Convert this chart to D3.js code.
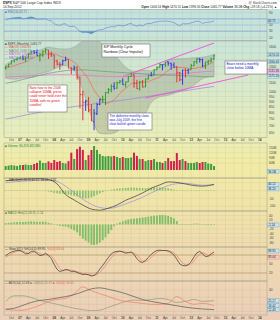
<!DOCTYPE html>
<html>
<head>
<meta charset="utf-8">
<script src="https://cdn.jsdelivr.net/npm/d3@7"></script>
<style>
  body { margin: 0; background: #fff; }
  svg { display: block; font-family: "Liberation Sans", Arial, sans-serif; }
</style>
</head>
<body>
<svg id="chart" width="280" height="320"></svg>
<script>
// ---- data (monthly bars, Aug 2006 .. Sep 2012) ----
const months = d3.timeMonth.range(new Date(2006, 7, 1), new Date(2012, 9, 1));

const open = [1276.7, 1303.8, 1335.9, 1377.9, 1400.6,
  1418.0, 1437.9, 1406.8, 1420.8, 1482.4, 1530.6, 1504.7, 1455.2, 1474.0, 1527.3, 1545.8, 1479.6,
  1468.0, 1378.6, 1330.5, 1326.4, 1386.0, 1399.6, 1276.7, 1269.4, 1287.8, 1164.2, 968.7, 888.6,
  903.0, 823.1, 729.6, 793.6, 872.7, 923.3, 920.8, 990.2, 1019.5, 1054.9, 1036.2, 1098.9,
  1116.6, 1073.9, 1105.4, 1171.2, 1188.6, 1087.3, 1031.1, 1107.5, 1049.7, 1143.5, 1185.7, 1186.6,
  1257.6, 1289.1, 1328.6, 1329.5, 1365.2, 1345.2, 1320.6, 1292.6, 1219.1, 1131.2, 1251.0, 1246.9,
  1258.9, 1312.5, 1365.9, 1408.5, 1397.9, 1309.9, 1362.3, 1379.3, 1406.5];
const high = [1306.7, 1340.3, 1389.5, 1407.9, 1431.8,
  1441.6, 1461.6, 1438.9, 1498.0, 1535.6, 1540.6, 1555.9, 1503.9, 1538.7, 1576.1, 1545.8, 1523.6,
  1471.8, 1396.0, 1359.7, 1397.0, 1440.2, 1404.1, 1292.2, 1313.2, 1303.0, 1167.0, 1007.5, 918.9,
  943.9, 875.0, 833.0, 888.7, 930.2, 956.2, 996.7, 1039.5, 1080.2, 1101.4, 1111.1, 1130.4,
  1150.5, 1112.4, 1180.7, 1219.8, 1205.1, 1131.2, 1121.0, 1129.2, 1148.9, 1196.1, 1227.1, 1262.6,
  1302.7, 1344.1, 1332.3, 1364.6, 1370.6, 1356.5, 1356.5, 1307.4, 1229.3, 1256.6, 1277.6, 1269.4,
  1333.5, 1378.0, 1419.2, 1422.4, 1415.3, 1363.5, 1392.1, 1426.7, 1474.5];
const low = [1261.3, 1290.9, 1327.1, 1361.0, 1385.9,
  1404.0, 1389.4, 1364.0, 1416.4, 1476.7, 1484.2, 1454.3, 1370.6, 1439.3, 1489.6, 1406.1, 1435.7,
  1270.1, 1316.8, 1257.0, 1324.4, 1373.1, 1272.0, 1200.4, 1247.5, 1133.5, 839.8, 741.0, 815.7,
  804.3, 734.5, 666.8, 783.3, 866.1, 888.9, 869.3, 978.5, 992.0, 1020.0, 1029.4, 1085.9,
  1071.6, 1044.5, 1105.4, 1170.7, 1040.8, 1028.3, 1010.9, 1039.7, 1048.1, 1131.9, 1173.0, 1186.6,
  1257.6, 1289.1, 1249.1, 1294.7, 1311.8, 1258.1, 1282.9, 1101.5, 1114.2, 1074.8, 1158.7, 1202.4,
  1258.9, 1312.5, 1340.0, 1357.4, 1292.0, 1266.7, 1325.4, 1354.6, 1396.6];
const close = [1303.8, 1335.9, 1377.9, 1400.6, 1418.3,
  1438.2, 1406.8, 1420.9, 1482.4, 1530.6, 1503.4, 1455.3, 1474.0, 1526.8, 1549.4, 1481.1, 1468.4,
  1378.6, 1330.6, 1322.7, 1385.6, 1400.4, 1280.0, 1267.4, 1282.8, 1166.4, 968.8, 896.2, 903.3,
  825.9, 735.1, 797.9, 872.8, 919.1, 919.3, 987.5, 1020.6, 1057.1, 1036.2, 1095.6, 1115.1,
  1073.9, 1104.5, 1169.4, 1186.7, 1089.4, 1030.7, 1101.6, 1049.3, 1141.2, 1183.3, 1180.6, 1257.6,
  1286.1, 1327.2, 1325.8, 1363.6, 1345.2, 1320.6, 1292.3, 1218.9, 1131.4, 1253.3, 1247.0, 1257.6,
  1312.4, 1365.7, 1408.5, 1397.9, 1310.3, 1362.2, 1379.3, 1406.6, 1465.8];
const ma10 = [1278.5, 1287.1, 1300.1, 1312.1, 1325.9, 1340.2, 1349.9, 1364.9, 1386.2, 1411.5,
  1431.5, 1443.4, 1453.1, 1465.7, 1478.8, 1483.1, 1489.2, 1485.0, 1469.8, 1449.0,
  1437.3, 1431.8, 1412.4, 1386.4, 1359.8, 1328.3, 1278.3, 1230.1, 1187.4, 1137.7,
  1072.6, 1012.4, 971.7, 936.8, 900.5, 882.6, 887.8, 903.9, 917.2, 944.1,
  982.1, 1009.7, 1032.9, 1057.9, 1084.7, 1094.9, 1095.9, 1100.3, 1101.6, 1106.2,
  1113.0, 1123.7, 1139.0, 1150.7, 1164.7, 1188.3, 1221.6, 1246.0, 1273.1, 1288.2,
  1291.8, 1286.9, 1286.4, 1282.5, 1275.6, 1274.2, 1274.4, 1280.8, 1288.5, 1290.3,
  1304.6, 1329.4, 1344.8, 1366.6];
// volume, billions of shares
const volume = [43, 46, 49, 46, 43, 49, 49, 52, 49, 49, 55, 61, 75, 61, 61, 70, 61, 78, 67, 72,
  61, 58, 72, 121, 84, 142, 156, 137, 78, 107, 137, 160, 137, 113, 102, 99, 102, 99, 102, 96,
  90, 96, 90, 90, 93, 121, 102, 84, 84, 72, 78, 78, 84, 67, 67, 61, 72, 90, 72, 72,
  119, 78, 84, 72, 61, 61, 61, 67, 61, 67, 67, 58, 55, 43];
const rsi = [66, 69, 72, 73, 74,
  75, 70, 71, 74, 76, 73, 68, 69, 69, 70, 65, 63,
  54, 50, 49, 53, 54, 46, 45, 46, 39, 29, 26, 27,
  25, 22, 27, 32, 35, 35, 40, 42, 45, 44, 48, 49,
  47, 49, 53, 55, 49, 46, 50, 47, 53, 55, 55, 59,
  60, 62, 62, 63, 62, 60, 58, 52, 47, 54, 54, 54,
  57, 60, 62, 61, 55, 58, 59, 60, 63];
const stoK = [77, 85, 90, 93, 95,
  95, 90, 84, 85, 92, 93, 85, 78, 80, 86, 78, 68,
  48, 32, 25, 28, 32, 30, 25, 26, 22, 18, 15, 16,
  14, 10, 12, 20, 33, 45, 58, 72, 84, 90, 92, 93,
  90, 86, 88, 90, 82, 68, 58, 55, 62, 72, 82, 90,
  95, 96, 95, 95, 93, 88, 80, 66, 50, 45, 44, 48,
  58, 74, 87, 92, 84, 75, 76, 84, 90];
const stoD = [72, 78, 84, 89, 93,
  94, 93, 90, 86, 87, 90, 90, 85, 81, 81, 81, 77,
  65, 49, 35, 28, 28, 30, 29, 27, 24, 22, 18, 16,
  15, 13, 12, 14, 22, 33, 45, 58, 71, 82, 89, 92,
  92, 90, 88, 88, 87, 80, 69, 60, 58, 63, 72, 81,
  89, 94, 95, 95, 94, 92, 87, 78, 65, 54, 46, 46,
  50, 60, 73, 84, 88, 84, 78, 78, 83];
const macdHist = [2, 3, 2, 3, 2, 1, 2, 3, 2, 1, 0, 1, -1, -2, -3, -6,
  -10, -15, -18, -20, -20, -22, -26, -30, -34, -38, -44, -48, -50, -48, -44, -36, -26, -18, -10, -4,
  2, 6, 9, 12, 14, 15, 16, 18, 19, 19, 18, 17, 16, 16, 17, 18, 19, 20, 20, 19,
  17, 14, 10, 6, 3, 1, -1, -2, -2, -2, -1, 0, 1, 1, 0, -1, -1, 0];
const momHist = [6, 8, 9, 10, 11, 12, 11, 12, 13, 14, 13, 12, 12, 13, 12, 8,
  5, 2, -3, -6, -8, -9, -13, -20, -26, -35, -50, -63, -72, -80, -90, -91, -88, -80, -70, -57,
  -42, -25, -8, 4, 9, 14, 18, 22, 25, 26, 27, 29, 31, 33, 35, 37, 39, 40, 42, 42,
  41, 38, 33, 27, 15, 2, -2, -3, -2, 2, 4, 4, 3, -2, -3, -3, -3, -2];

// ---- data read at quarterly points ----
const qDates = ["2006-08", "2006-11", "2007-02", "2007-05", "2007-08", "2007-11", "2008-02", "2008-05",
  "2008-08", "2008-11", "2009-02", "2009-05", "2009-08", "2009-11", "2010-02", "2010-05", "2010-08",
  "2010-11", "2011-02", "2011-05", "2011-08", "2011-11", "2012-02", "2012-05", "2012-09"].map(d3.timeParse("%Y-%m"));
const bbUpper = [1329, 1397, 1433, 1520, 1547, 1592, 1568, 1562, 1593, 1698, 1745, 1680, 1525, 1425, 1290, 1236,
  1253, 1243, 1303, 1385, 1410, 1415, 1426, 1433, 1475];
const bbLower = [1149, 1137, 1153, 1160, 1207, 1232, 1288, 1314, 1245, 1018, 765, 645, 641, 657, 714, 742,
  765, 891, 947, 961, 994, 1019, 1070, 1145, 1175];
const ma50 = [1090, 1110, 1135, 1160, 1185, 1210, 1230, 1245, 1255, 1255, 1250, 1240, 1232, 1225, 1218, 1212,
  1205, 1198, 1192, 1188, 1185, 1180, 1175, 1170, 1168];
const ma100 = [1165, 1170, 1175, 1180, 1185, 1190, 1192, 1192, 1190, 1185, 1180, 1175, 1172, 1170, 1170, 1172,
  1175, 1180, 1188, 1196, 1205, 1212, 1220, 1230, 1240];
const ma200 = [750, 763, 777, 791, 805, 818, 831, 843, 855, 866, 876, 886, 896, 907, 918, 930, 942, 955, 968,
  982, 996, 1010, 1024, 1038, 1055];
const macdLine = [62, 68, 72, 74, 75, 70, 42, -25, -60, -92, -118, -125, -112, -92, -62, -40, -15, 15, 36, 55,
  52, 42, 32, 28, 40];
const macdSignal = [50, 56, 60, 64, 66, 66, 58, 28, -12, -55, -88, -108, -114, -104, -85, -65, -42, -15, 10, 32,
  44, 46, 40, 34, 36];
const adx = [13, 14.5, 18.6, 22.7, 25.5, 26.8, 28.9, 30.9, 33.6, 37.7, 41.8, 43.2, 41.1, 38.4, 35, 30.9, 26.8,
  24.1, 22, 20, 18, 16, 14.5, 13.5, 12.5];
const plusDI = [24, 32, 32, 29.5, 25.5, 22.7, 20, 17.3, 14.5, 12.5, 11.1, 11.8, 15.9, 20, 24.1, 26.1, 25.5,
  26.8, 28.2, 26.8, 22.7, 24.1, 26.8, 24.1, 25.2];
const minusDI = [13.2, 11.8, 11.8, 14.5, 18.6, 24.1, 26.8, 28.2, 35, 44.5, 39, 35, 31, 26.8, 24.1, 22.7, 21.4,
  20, 20, 21.4, 30.9, 24.1, 20, 21.4, 18.4];

// trend channel end points [month, price]
const channelUpper = [["2010-01", 1170], ["2012-09", 1664]];
const channelLower = [["2010-09", 935], ["2013-09", 1190]];

// axis ticks
const mainTicks = [650, 700, 750, 800, 850, 900, 950, 1000, 1100, 1200, 1300, 1400, 1500, 1600];
const rsiTicks = [10, 30, 50, 70, 90];
const volTicks = [60, 90, 120, 150];
const macdTicks = [50, 0, -50, -100];
const histTicks = [40, 20, 0, -20, -40, -60, -80];
const stoTicks = [20, 50, 80];
const adxTicks = [10, 20, 30, 40];

// ---- layout ----
const svg = d3.select("#chart");
const defs = svg.append("defs");
const L = 4, R = 267;
const x = d3.scaleTime().domain([new Date(2006, 6, 14), new Date(2014, 2, 20)]).range([L, R]);
const qTicks = d3.timeMonth.every(3).range(x.domain()[0], x.domain()[1]);
const parseM = d3.timeParse("%Y-%m");

const yRsi = d3.scaleLinear().domain([0, 100]).range([40.5, 9.5]);
const yMain = d3.scaleLog().domain([618, 1699]).range([137.5, 41]);
const yVol = d3.scaleLinear().domain([20, 160]).range([170, 146]);
const yMacd = d3.scaleLinear().domain([-130, 80]).range([211, 178]);
const yHist = d3.scaleLinear().domain([-100, 60]).range([247, 211]);
const ySto = d3.scaleLinear().domain([0, 100]).range([279, 249]);
const yAdx = d3.scaleLinear().domain([5, 50]).range([315, 283]);

// background gradient, teal at top to peach at bottom
const grad = defs.append("linearGradient").attr("id", "bg")
  .attr("gradientUnits", "userSpaceOnUse").attr("x1", 0).attr("y1", 9).attr("x2", 0).attr("y2", 320);
[[9, "#c3e1dd"], [45, "#cbe5d8"], [95, "#dbe9c8"], [137, "#e9eebb"], [160, "#f1eba7"],
 [210, "#f0e3aa"], [260, "#eed8b2"], [320, "#ebcfb9"]]
  .forEach(([y, c]) => grad.append("stop").attr("offset", (y - 9) / 311).attr("stop-color", c));
svg.append("rect").attr("x", 0).attr("y", 9).attr("width", 280).attr("height", 311).attr("fill", "url(#bg)");

const tickLayer = svg.append("g");
const boxYs = [];

function panel(name, top, bottom, y, ticks, fmt) {
  defs.append("clipPath").attr("id", "clip-" + name).append("rect")
    .attr("x", L).attr("y", top).attr("width", R - L).attr("height", bottom - top);
  const g = svg.append("g");
  g.selectAll(".vg").data(qTicks).join("line").attr("class", "vg")
    .attr("x1", d => x(d)).attr("x2", d => x(d)).attr("y1", top).attr("y2", bottom)
    .attr("stroke", "#5a5a40").attr("stroke-opacity", 0.13).attr("stroke-width", 0.5);
  g.selectAll(".hg").data(ticks).join("line").attr("class", "hg")
    .attr("x1", L).attr("x2", R).attr("y1", d => y(d)).attr("y2", d => y(d))
    .attr("stroke", "#5a5a40").attr("stroke-opacity", 0.13).attr("stroke-width", 0.5);
  g.append("rect").attr("x", L).attr("y", top).attr("width", R - L).attr("height", bottom - top)
    .attr("fill", "none").attr("stroke", "#a09c84").attr("stroke-width", 0.5);
  ticks.forEach(t => tickLayer.append("text").attr("class", "tl")
    .attr("x", R + 2).attr("y", y(t)).attr("dy", "0.35em")
    .attr("font-size", 3.2).attr("fill", "#444").text(fmt(t)));
  return svg.append("g").attr("clip-path", `url(#clip-${name})`);
}

function valueBox(yPos, label, fill, stroke) {
  boxYs.push(yPos);
  const g = svg.append("g");
  g.append("rect").attr("x", R + 0.5).attr("y", yPos - 2).attr("width", 11.5).attr("height", 4)
    .attr("fill", fill).attr("stroke", stroke).attr("stroke-width", 0.4);
  g.append("text").attr("x", R + 1.2).attr("y", yPos).attr("dy", "0.35em")
    .attr("font-size", 3).attr("fill", "#222").text(label);
}

function legend(xPos, yPos, parts) {
  const t = svg.append("text").attr("x", xPos).attr("y", yPos).attr("font-size", 3.1);
  parts.forEach(([s, c]) => t.append("tspan").attr("fill", c).text(s));
}

// ---- header ----
const h1 = svg.append("text").attr("x", 3).attr("y", 4.2).attr("font-size", 3.4).attr("fill", "#222");
h1.append("tspan").attr("font-weight", "bold").text("$SPX");
h1.append("tspan").text(" S&P 500 Large Cap Index  INDX");
svg.append("text").attr("x", 3).attr("y", 8.4).attr("font-size", 3.2).attr("fill", "#222").text("14-Sep-2012");
svg.append("text").attr("x", 277).attr("y", 4.2).attr("text-anchor", "end").attr("font-size", 3.2)
  .attr("fill", "#333").text("@ StockCharts.com");
const h2 = svg.append("text").attr("x", 277).attr("y", 8.4).attr("text-anchor", "end")
  .attr("font-size", 3.1).attr("fill", "#222");
[["Open", " 1406.54  "], ["High", " 1474.51  "], ["Low", " 1396.56  "], ["Close", " 1465.77  "],
 ["Volume", " 36.5B  "], ["Chg", " +59.18 (+4.21%) \u25B2"]].forEach(([k, v]) => {
  h2.append("tspan").attr("font-weight", "bold").text(k);
  h2.append("tspan").text(v);
});

// ---- RSI panel ----
const gRsi = panel("rsi", 9.5, 40.5, yRsi, rsiTicks, d => d);
const rsiPts = months.map((d, i) => ({ date: d, v: rsi[i] }));
gRsi.append("path").datum(rsiPts).attr("fill", "#3f93ad").attr("fill-opacity", 0.85)
  .attr("d", d3.area().x(d => x(d.date)).y0(yRsi(70)).y1(d => yRsi(Math.max(70, d.v))));
gRsi.append("path").datum(rsiPts).attr("fill", "#3f93ad").attr("fill-opacity", 0.85)
  .attr("d", d3.area().x(d => x(d.date)).y0(yRsi(30)).y1(d => yRsi(Math.min(30, d.v))));
[70, 30].forEach(v => gRsi.append("line").attr("x1", L).attr("x2", R).attr("y1", yRsi(v)).attr("y2", yRsi(v))
  .attr("stroke", "#7d93d6").attr("stroke-width", 0.6));
gRsi.append("line").attr("x1", L).attr("x2", R).attr("y1", yRsi(50)).attr("y2", yRsi(50))
  .attr("stroke", "#8aa0c8").attr("stroke-width", 0.5).attr("stroke-dasharray", "1.5,1");
gRsi.append("path").datum(rsiPts).attr("fill", "none").attr("stroke", "#5b7ed2").attr("stroke-width", 0.6)
  .attr("d", d3.line().x(d => x(d.date)).y(d => yRsi(d.v)));
legend(5, 12.6, [["\u25A0 RSI(14) 62.71", "#4a6fc0"]]);
valueBox(yRsi(62.7), "62.71", "#b9dcee", "#6a9cc0");

// ---- main price panel ----
const gMain = panel("main", 41, 137.5, yMain, mainTicks, d => d);
const qPts = qDates.map((d, i) => ({ date: d, hi: bbUpper[i], lo: bbLower[i], m50: ma50[i], m100: ma100[i], m200: ma200[i] }));
gMain.append("path").datum(qPts).attr("fill", "#7a8574").attr("fill-opacity", 0.3)
  .attr("stroke", "#8d9684").attr("stroke-width", 0.4)
  .attr("d", d3.area().x(d => x(d.date)).y0(d => yMain(d.lo)).y1(d => yMain(d.hi)).curve(d3.curveMonotoneX));
[["m200", "#9b82dc"], ["m100", "#e26fd6"], ["m50", "#6f9676"]].forEach(([k, c]) => {
  gMain.append("path").datum(qPts).attr("fill", "none").attr("stroke", c).attr("stroke-width", 0.7)
    .attr("d", d3.line().x(d => x(d.date)).y(d => yMain(d[k])).curve(d3.curveMonotoneX));
});
[channelUpper, channelLower].forEach(seg => {
  gMain.append("line")
    .attr("x1", x(parseM(seg[0][0]))).attr("y1", yMain(seg[0][1]))
    .attr("x2", x(parseM(seg[1][0]))).attr("y2", yMain(seg[1][1]))
    .attr("stroke", "#f050e0").attr("stroke-width", 0.9);
});
gMain.append("path").datum(months.map((d, i) => ({ date: d, v: ma10[i] })))
  .attr("fill", "none").attr("stroke", "#f06a55").attr("stroke-width", 0.7)
  .attr("d", d3.line().x(d => x(d.date)).y(d => yMain(d.v)));

const barColor = i => {
  const up = close[i] >= (i > 0 ? close[i - 1] : open[i]);
  const above = close[i] >= ma10[i];
  if (up && above) return "#2f9e2f";
  if (!up && !above) return "#e23a3a";
  return "#3b3be6";
};
gMain.selectAll(".bar").data(months).join("path").attr("class", "bar")
  .attr("stroke", (d, i) => barColor(i)).attr("stroke-width", 1.05).attr("fill", "none")
  .attr("d", (d, i) => {
    const cx = x(d);
    return `M${cx},${yMain(high[i])}V${yMain(low[i])}` +
      `M${cx - 1.1},${yMain(open[i])}H${cx}` +
      `M${cx},${yMain(close[i])}H${cx + 1.1}`;
  });

legend(5, 44.5, [["\u25A0 $SPX (Monthly) 1465.77", "#444"]]);
legend(5, 48, [["\u2014 MA(10) 1366.61", "#e8553f"]]);
legend(5, 51.5, [["\u2014 MA(50) 1168.19", "#5d8a66"]]);
legend(5, 55, [["\u2014 MA(100) 1241.65", "#d65cc9"]]);
legend(5, 58.5, [["\u2014 MA(200) 1055.40", "#8a70d0"]]);

valueBox(yMain(1475), "1474.51", "#c6e6f2", "#6aa0c0");
valueBox(yMain(1366.6), "1366.61", "#c6e6f2", "#6aa0c0");
valueBox(yMain(1241), "1241.65", "#f4c8ee", "#d060c8");
valueBox(yMain(1175), "1175.10", "#c6e6f2", "#6aa0c0");

// annotations
function note(x0, y0, w, h, lines, color, size) {
  svg.append("rect").attr("x", x0).attr("y", y0).attr("width", w).attr("height", h)
    .attr("fill", "#fff").attr("stroke", "#555").attr("stroke-width", 0.5);
  svg.append("g").selectAll("text").data(lines).join("text")
    .attr("x", x0 + 1.5).attr("y", (d, i) => y0 + 4.2 + i * size * 1.25)
    .attr("font-size", size).attr("fill", color).text(d => d);
}
note(102, 44, 48, 13, ["S/P Monthly Cycle", "Rainbow (Clear Impulse)"], "#111", 3.6);
note(28, 85, 39, 27, ["Note how in the 2008", "collapse 10MA, prices", "could never hold over the",
  "10MA, with no green", "candles!"], "#e01010", 3.3);
note(108, 113, 44, 17, ["The definitive monthly close", "was July 2009, the first",
  "clear bullish green candle"], "#1020d0", 3.2);
note(225, 61, 42, 13, ["Bears need a monthly", "close below 10MA."], "#1020d0", 3.3);

// ---- volume panel ----
const gVol = panel("vol", 143, 178, yVol, volTicks, d => d + "B");
gVol.selectAll(".vb").data(months).join("rect").attr("class", "vb")
  .attr("x", d => x(d) - 1).attr("width", 2)
  .attr("y", (d, i) => yVol(volume[i])).attr("height", (d, i) => 170 - yVol(volume[i]))
  .attr("fill", (d, i) => close[i] >= (i > 0 ? close[i - 1] : open[i]) ? "#3f9c3f" : "#cf2150");
legend(5, 146.6, [["\u25A0 Volume 36,459,482,880", "#2f7f2f"]]);
valueBox(171.5, "36.5B", "#c6e6f2", "#6aa0c0");

// ---- MACD panel ----
const gMacd = panel("macd", 178, 211, yMacd, macdTicks, d => d);
gMacd.selectAll(".mh").data(months).join("rect").attr("class", "mh")
  .attr("x", d => x(d) - 0.8).attr("width", 1.6)
  .attr("y", (d, i) => Math.min(yMacd(0), yMacd(macdHist[i])))
  .attr("height", (d, i) => Math.max(0.5, Math.abs(yMacd(macdHist[i]) - yMacd(0))))
  .attr("fill", "#86c070");
const mPts = qDates.map((d, i) => ({ date: d, m: macdLine[i], s: macdSignal[i] }));
gMacd.append("path").datum(mPts).attr("fill", "none").attr("stroke", "#9a8ce0").attr("stroke-width", 0.7)
  .attr("d", d3.line().x(d => x(d.date)).y(d => yMacd(d.s)).curve(d3.curveMonotoneX));
gMacd.append("path").datum(mPts).attr("fill", "none").attr("stroke", "#333").attr("stroke-width", 0.7)
  .attr("d", d3.line().x(d => x(d.date)).y(d => yMacd(d.m)).curve(d3.curveMonotoneX));
legend(5, 181.4, [["\u2014 MACD(12,26,9) 40.12, 36.20, 3.92", "#333"]]);
valueBox(yMacd(40), "40.12", "#c6e6f2", "#6aa0c0");
valueBox(yMacd(36) + 4, "36.20", "#c6e6f2", "#6aa0c0");

// ---- histogram panel ----
const gHist = panel("hist", 211, 247, yHist, histTicks, d => d);
gHist.selectAll(".hb").data(months).join("rect").attr("class", "hb")
  .attr("x", d => x(d) - 0.9).attr("width", 1.8)
  .attr("y", (d, i) => Math.min(yHist(0), yHist(momHist[i])))
  .attr("height", (d, i) => Math.max(0.5, Math.abs(yHist(momHist[i]) - yHist(0))))
  .attr("fill", "#7fbd68");
legend(5, 214.4, [["\u25A0 MACD Hist(12,26,9) -2.14", "#3f7f2f"]]);
valueBox(yHist(-2), "-2.14", "#c6e6f2", "#6aa0c0");

// ---- slow stochastic panel ----
const gSto = panel("sto", 247, 281, ySto, stoTicks, d => d);
[80, 20].forEach(v => gSto.append("line").attr("x1", L).attr("x2", R).attr("y1", ySto(v)).attr("y2", ySto(v))
  .attr("stroke", "#a89868").attr("stroke-width", 0.6));
gSto.append("line").attr("x1", L).attr("x2", R).attr("y1", ySto(50)).attr("y2", ySto(50))
  .attr("stroke", "#b8a878").attr("stroke-width", 0.5).attr("stroke-dasharray", "1.5,1");
const sPts = months.map((d, i) => ({ date: d, k: stoK[i], dd: stoD[i] }));
gSto.append("path").datum(sPts).attr("fill", "none").attr("stroke", "#f07b6a").attr("stroke-width", 0.7)
  .attr("d", d3.line().x(d => x(d.date)).y(d => ySto(d.dd)));
gSto.append("path").datum(sPts).attr("fill", "none").attr("stroke", "#333").attr("stroke-width", 0.7)
  .attr("d", d3.line().x(d => x(d.date)).y(d => ySto(d.k)));
legend(5, 250.4, [["\u2014 Slow STO %K(14,3) 89.95, ", "#333"], ["%D(3) 83.04", "#e8604f"]]);
valueBox(ySto(90) - 1, "89.95", "#c6e6f2", "#6aa0c0");
valueBox(ySto(83) + 3, "83.04", "#f6d0c8", "#e07060");

// ---- ADX panel ----
const gAdx = panel("adx", 281, 315, yAdx, adxTicks, d => d);
const aPts = qDates.map((d, i) => ({ date: d, a: adx[i], p: plusDI[i], m: minusDI[i] }));
[["p", "#8d9c78"], ["m", "#f07b6a"], ["a", "#555"]].forEach(([k, c]) => {
  gAdx.append("path").datum(aPts).attr("fill", "none").attr("stroke", c).attr("stroke-width", 0.7)
    .attr("d", d3.line().x(d => x(d.date)).y(d => yAdx(d[k])).curve(d3.curveMonotoneX));
});
legend(5, 284.4, [["\u2014 ADX(14) 12.49 ", "#444"], ["\u25A0 +DI(14) 25.17 ", "#6f7f5a"], ["\u25A0 -DI(14) 18.42", "#e8604f"]]);
valueBox(yAdx(25.2), "25.17", "#c6e6f2", "#6aa0c0");
valueBox(yAdx(18.4), "18.42", "#c6e6f2", "#6aa0c0");
valueBox(yAdx(12.5), "12.49", "#c6e6f2", "#6aa0c0");

// drop right-axis tick labels hidden behind the value boxes
tickLayer.selectAll(".tl").filter(function () {
  const ty = +this.getAttribute("y");
  return boxYs.some(b => Math.abs(b - ty) < 3.8);
}).remove();

// ---- x axis labels ----
function xLabels(yPos) {
  svg.append("g").selectAll("text").data(qTicks).join("text")
    .attr("x", d => x(d)).attr("y", yPos).attr("text-anchor", "middle")
    .attr("font-size", 3.2).attr("font-weight", d => d.getMonth() === 0 ? "bold" : "normal")
    .attr("fill", "#444")
    .text(d => d.getMonth() === 0 ? d3.timeFormat("%y")(d) : d3.timeFormat("%b")(d));
}
xLabels(141.4);
xLabels(318.8);
</script>
</body>
</html>
